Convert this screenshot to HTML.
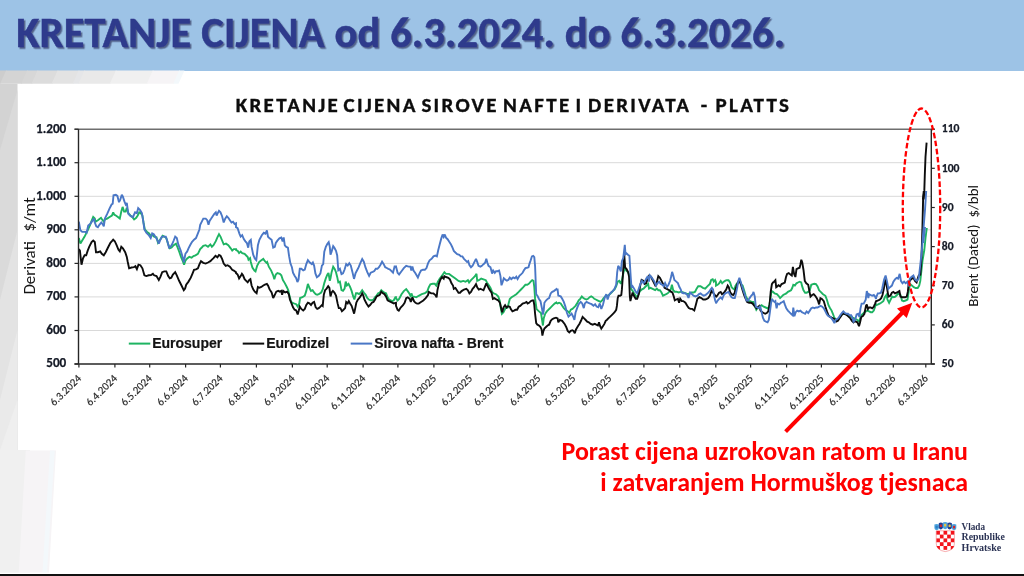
<!DOCTYPE html>
<html><head><meta charset="utf-8"><title>Kretanje cijena</title>
<style>
html,body{margin:0;padding:0}
body{width:1024px;height:576px;overflow:hidden;position:relative;background:#fff;font-family:Carlito,"Liberation Sans",sans-serif}
.hdr{position:absolute;left:0;top:0;width:1024px;height:70.5px;background:#9dc3e6}
.ttl{font-family:Carlito,"Liberation Sans",sans-serif;font-weight:bold;font-size:42.3px;letter-spacing:0.25px;fill:#2e3a8c;stroke:#2e3a8c;stroke-width:0.5px}
.bar{position:absolute;left:0;top:573.5px;width:1024px;height:3px;background:#111}
svg{position:absolute;left:0;top:0}
.ax{font-family:Carlito,"Liberation Sans",sans-serif;font-weight:bold;font-size:13.2px;fill:#151a26;stroke:#151a26;stroke-width:0.25px}
.ax2{font-family:Carlito,"Liberation Sans",sans-serif;font-weight:bold;font-size:11.6px;fill:#151a26;stroke:#151a26;stroke-width:0.25px}
.xl{font-family:Carlito,"Liberation Sans",sans-serif;font-size:11px;fill:#2a2a2a;stroke:#2a2a2a;stroke-width:0.15px}
.at{font-family:Carlito,"Liberation Sans",sans-serif;font-size:17px;fill:#141414}
.at2{font-family:Carlito,"Liberation Sans",sans-serif;font-size:15px;fill:#141414}
.ct{font-family:Carlito,"Liberation Sans",sans-serif;font-weight:bold;font-size:21px;letter-spacing:2.3px;fill:#0d0d0d;stroke:#0d0d0d;stroke-width:0.35px}
.lg{font-family:"Liberation Sans",Arial,sans-serif;font-weight:bold;font-size:14px;fill:#141414;stroke:#141414;stroke-width:0.2px}
.red{font-family:Carlito,"Liberation Sans",sans-serif;font-weight:bold;font-size:25.9px;fill:#ff0000}
.lt{font-family:"Liberation Serif",serif;font-weight:bold;font-size:9.8px;fill:#2b3354}
</style></head><body>
<div class="hdr"></div>
<svg width="1024" height="576" viewBox="0 0 1024 576">
<polygon points="-10,70.5 6.8999999999999995,70.5 0.8999999999999995,83.8 -16,83.8" fill="#cdcdcd"/>
<polygon points="6.1,70.5 28.0,70.5 22.0,83.8 0.09999999999999964,83.8" fill="#d4d4d4"/>
<polygon points="27.2,70.5 38.3,70.5 32.3,83.8 21.2,83.8" fill="#d7d7d7"/>
<polygon points="37.5,70.5 58.4,70.5 52.4,83.8 31.5,83.8" fill="#dcdcdc"/>
<polygon points="57.6,70.5 79.5,70.5 73.5,83.8 51.6,83.8" fill="#e3e3e3"/>
<polygon points="78.7,70.5 85.2,70.5 79.2,83.8 72.7,83.8" fill="#e5e6e8"/>
<polygon points="84.4,70.5 116.6,70.5 110.6,83.8 78.4,83.8" fill="#e9e9e9"/>
<polygon points="115.8,70.5 153.60000000000002,70.5 147.60000000000002,83.8 109.8,83.8" fill="#f0f0f0"/>
<polygon points="152.8,70.5 180.0,70.5 174.0,83.8 146.8,83.8" fill="#f6f4f6"/>
<polygon points="179.2,70.5 184.5,70.5 178.5,83.8 173.2,83.8" fill="#f3f8fb"/>
<rect x="0" y="83.8" width="17.5" height="380" fill="#d3d3d3"/>
<polygon points="0,150 17.5,90 17.5,460 0,460" fill="#dadada"/>
<polygon points="0,300 17.5,230 17.5,460 0,460" fill="#e3e3e3"/>
<polygon points="0,400 17.5,330 17.5,460 0,460" fill="#eaeaea"/>
<polygon points="0,450 17.5,400 17.5,460 0,460" fill="#efefef"/>
<rect x="0" y="450" width="30" height="123" fill="#f0f0f0"/>
<polygon points="25.8,450.5 56,450.5 49,572.7 18.75,572.7" fill="#f6f4f6"/>
<polygon points="50,450.5 54.7,450.5 47,572.7 42.5,572.7" fill="#f3f8fb"/>
<rect x="0" y="572.7" width="60" height="1" fill="#fff"/>
<defs><filter id="sh" x="-5%" y="-20%" width="110%" height="150%"><feDropShadow dx="1.5" dy="1.6" stdDeviation="0.6" flood-color="#1c2448" flood-opacity="0.6"/></filter></defs>
<line x1="78.5" y1="330.5" x2="931.3" y2="330.5" stroke="#d9d9d9" stroke-width="1"/>
<line x1="78.5" y1="296.9" x2="931.3" y2="296.9" stroke="#d9d9d9" stroke-width="1"/>
<line x1="78.5" y1="263.4" x2="931.3" y2="263.4" stroke="#d9d9d9" stroke-width="1"/>
<line x1="78.5" y1="229.8" x2="931.3" y2="229.8" stroke="#d9d9d9" stroke-width="1"/>
<line x1="78.5" y1="196.3" x2="931.3" y2="196.3" stroke="#d9d9d9" stroke-width="1"/>
<line x1="78.5" y1="162.7" x2="931.3" y2="162.7" stroke="#d9d9d9" stroke-width="1"/>
<path d="M78.8,238.1 L80.4,243.6 L82.2,240.5 L84.6,236.6 L86.2,233.4 L87.7,230.3 L90.1,224.8 L91.6,220.9 L93.2,217.0 L94.8,218.6 L95.5,221.7 L97.9,220.2 L101.0,217.8 L102.6,220.2 L103.8,221.7 L104.9,219.4 L107.2,218.6 L109.6,217.0 L111.9,215.5 L113.2,212.3 L114.3,214.7 L115.8,215.5 L117.9,217.0 L119.8,218.6 L121.3,211.6 L122.6,206.9 L124.1,211.6 L125.7,211.6 L126.8,207.7 L128.3,213.1 L130.4,215.5 L132.2,217.0 L134.1,219.4 L136.2,217.8 L137.7,215.5 L139.3,212.3 L140.8,213.1 L142.4,215.5 L143.5,222.5 L144.8,229.5 L147.1,231.9 L149.1,233.4 L150.7,235.8 L152.6,235.0 L154.1,236.6 L156.5,237.3 L158.0,242.8 L159.6,240.5 L161.2,238.1 L162.7,235.8 L164.3,236.6 L166.3,238.1 L168.2,244.4 L169.8,248.3 L171.6,247.5 L173.7,245.2 L176.0,243.6 L177.6,247.5 L179.4,252.2 L181.0,256.9 L183.0,261.6 L184.1,264.7 L185.4,260.8 L187.2,258.4 L189.3,256.9 L191.6,257.7 L193.5,256.1 L195.5,255.3 L197.9,253.8 L200.2,249.1 L201.8,247.5 L203.3,245.9 L205.7,245.2 L208.0,246.7 L210.4,244.4 L211.9,246.7 L213.5,245.2 L215.8,241.2 L217.4,237.3 L219.0,234.2 L220.5,236.6 L222.1,240.5 L223.7,244.4 L226.0,243.6 L228.3,245.2 L230.7,248.3 L232.2,250.6 L233.8,249.1 L236.0,249.1 L236.0,250.0 L237.6,250.8 L239.1,253.1 L240.7,251.6 L242.2,253.1 L244.6,253.9 L246.2,255.5 L247.7,257.0 L248.5,259.7 L250.1,258.1 L250.8,262.0 L252.4,267.5 L254.4,270.6 L255.5,271.4 L257.1,265.9 L259.1,262.0 L261.0,260.5 L263.3,258.9 L264.9,261.2 L266.5,262.8 L267.2,262.0 L268.8,266.7 L271.2,270.6 L273.2,275.3 L274.3,279.2 L275.8,274.5 L277.4,273.0 L279.8,273.8 L281.3,275.3 L282.9,280.0 L284.8,283.1 L286.8,287.0 L288.3,290.2 L289.4,295.6 L290.7,300.3 L291.9,302.7 L293.8,303.4 L296.2,304.2 L297.7,306.6 L299.3,303.4 L300.1,298.0 L302.4,297.2 L304.8,295.6 L306.3,290.9 L307.9,283.9 L309.4,287.8 L311.0,290.9 L312.6,290.2 L314.1,292.5 L315.7,294.1 L317.2,294.8 L318.8,294.1 L321.2,292.5 L322.7,289.4 L324.3,283.1 L325.8,278.4 L327.4,274.5 L328.5,273.0 L329.8,280.8 L330.5,278.4 L331.6,272.2 L333.2,266.7 L334.8,269.1 L336.0,272.2 L337.2,276.9 L338.3,282.3 L339.9,281.6 L341.5,290.2 L343.0,290.9 L344.6,288.6 L345.7,281.6 L346.9,285.5 L348.5,283.9 L350.1,287.0 L351.6,290.9 L353.2,296.4 L354.4,299.5 L356.0,293.3 L357.6,293.3 L359.1,294.1 L360.7,292.5 L362.2,290.2 L363.8,292.5 L365.7,294.8 L367.2,298.0 L368.8,299.5 L370.4,300.3 L371.9,300.3 L373.5,299.5 L375.1,297.2 L376.6,295.6 L378.2,293.3 L379.8,292.5 L381.3,290.2 L382.9,291.7 L384.4,292.5 L386.0,293.3 L387.6,297.2 L389.1,299.5 L390.7,300.3 L392.2,301.1 L393.8,300.3 L395.4,297.2 L396.0,297.2 L396.0,298.1 L397.6,300.5 L399.1,298.9 L401.5,294.2 L403.8,291.1 L406.2,289.1 L407.7,291.1 L409.3,293.4 L410.4,295.8 L411.6,293.4 L412.4,296.6 L414.0,296.6 L416.3,297.3 L418.7,295.8 L421.8,294.2 L424.9,293.1 L427.2,291.6 L428.8,287.2 L430.4,284.4 L432.7,283.8 L434.8,283.8 L436.3,285.6 L437.9,281.7 L439.8,278.6 L442.1,275.5 L444.4,272.3 L446.0,273.9 L449.1,273.9 L452.2,276.2 L455.4,278.6 L458.5,280.9 L460.8,281.7 L463.2,280.9 L465.5,281.7 L467.9,280.2 L469.1,282.5 L471.0,280.2 L473.3,277.8 L474.9,276.2 L476.5,273.9 L477.2,280.9 L478.8,280.2 L481.2,278.6 L483.5,279.4 L485.8,280.2 L486.9,282.5 L489.0,285.6 L490.5,288.0 L492.1,291.9 L493.7,293.4 L496.0,294.2 L498.3,296.6 L499.9,301.2 L500.7,307.5 L501.9,313.8 L503.5,312.2 L505.4,308.3 L507.7,307.5 L508.8,302.8 L509.8,298.9 L511.6,297.3 L514.0,295.8 L516.3,294.2 L518.7,291.9 L521.0,289.5 L523.3,287.2 L525.4,284.8 L527.2,284.8 L528.8,283.8 L530.7,281.7 L532.2,280.2 L533.5,280.9 L534.3,287.2 L535.1,298.9 L536.6,309.1 L539.0,311.4 L541.0,313.0 L542.1,320.0 L542.9,325.5 L543.7,318.4 L545.2,313.8 L546.8,311.4 L548.3,309.8 L549.9,308.3 L551.5,306.7 L553.0,305.2 L554.6,303.6 L556.0,302.7 L556.0,302.8 L557.6,303.4 L559.1,302.7 L560.7,303.4 L562.2,305.8 L563.8,308.1 L565.4,309.7 L567.7,311.2 L569.3,312.8 L570.8,309.7 L572.4,308.9 L574.0,307.3 L575.5,305.8 L577.1,303.4 L578.7,300.3 L580.2,298.8 L581.8,296.4 L583.3,298.0 L584.9,298.8 L586.5,299.5 L588.0,298.8 L589.6,297.2 L591.2,296.4 L592.7,297.2 L594.3,298.8 L595.8,299.5 L597.4,300.3 L599.0,301.1 L600.5,301.9 L602.1,300.3 L603.7,298.0 L605.2,296.4 L606.8,295.6 L608.3,295.6 L609.9,294.1 L611.5,292.5 L613.0,290.9 L614.6,289.4 L616.2,286.2 L617.7,281.6 L619.3,280.8 L620.8,283.9 L621.6,281.6 L622.9,275.3 L624.0,270.6 L625.1,268.3 L626.3,270.6 L627.9,272.2 L629.4,275.3 L630.2,281.6 L631.3,289.4 L632.6,290.9 L634.1,293.3 L635.7,295.6 L637.2,297.2 L638.5,294.1 L640.1,290.9 L641.9,289.4 L643.5,288.6 L645.1,287.0 L646.6,285.5 L648.2,283.9 L649.0,288.6 L650.5,287.8 L652.1,288.6 L653.7,289.4 L655.2,290.2 L656.8,288.6 L658.3,290.2 L659.9,290.2 L661.5,292.5 L663.0,295.6 L664.6,294.8 L666.2,294.1 L667.7,293.3 L669.3,291.7 L670.8,289.4 L671.9,284.7 L673.2,290.2 L674.8,291.7 L676.3,291.7 L678.7,292.5 L681.0,291.7 L683.3,292.5 L685.7,293.3 L687.6,294.1 L689.6,293.3 L691.2,292.5 L693.5,292.5 L695.1,291.7 L696.6,288.6 L698.2,286.2 L700.5,286.2 L702.9,287.8 L705.2,288.6 L707.6,286.2 L709.9,283.9 L711.2,280.0 L712.7,279.2 L713.8,281.6 L715.1,280.0 L716.0,282.3 L716.0,285.6 L717.6,284.8 L719.1,283.3 L720.7,280.9 L722.2,283.3 L723.8,281.7 L725.4,280.6 L726.9,280.2 L728.5,280.2 L730.1,282.5 L731.6,287.2 L733.2,288.8 L734.4,289.5 L735.5,285.6 L737.1,283.3 L738.7,282.5 L739.8,280.2 L741.0,284.1 L742.6,285.6 L744.1,290.3 L745.7,295.8 L747.2,298.9 L748.8,301.2 L750.4,301.2 L751.9,302.0 L753.5,302.0 L754.8,305.9 L756.3,309.8 L757.9,307.5 L759.8,306.7 L761.6,305.2 L763.7,306.7 L765.7,307.5 L767.6,308.3 L769.1,306.7 L770.4,298.9 L771.5,291.1 L773.0,291.9 L774.6,293.4 L776.9,294.2 L778.5,295.8 L780.1,298.1 L781.6,296.6 L783.2,295.0 L784.8,294.2 L786.3,293.4 L787.9,291.9 L789.4,291.1 L791.0,290.3 L792.2,288.0 L793.3,284.8 L794.9,285.6 L796.5,283.3 L798.0,282.5 L799.6,281.7 L801.2,282.5 L802.2,286.4 L803.5,290.3 L805.1,292.7 L806.6,292.7 L808.2,291.9 L809.8,290.3 L811.3,284.8 L812.9,284.1 L814.4,283.8 L816.0,284.1 L817.6,286.4 L819.1,290.3 L820.7,291.9 L823.0,294.2 L825.4,295.8 L826.9,299.7 L828.5,305.2 L830.1,308.3 L831.6,310.6 L832.9,313.8 L834.0,316.9 L835.5,319.2 L837.1,320.0 L838.7,318.4 L840.2,316.1 L841.8,314.5 L843.3,313.8 L844.9,313.8 L846.5,314.5 L848.0,315.3 L849.6,316.1 L851.2,316.1 L852.7,317.7 L854.3,318.4 L855.8,319.2 L857.4,320.0 L859.0,321.6 L860.1,318.4 L861.3,315.3 L862.9,313.8 L864.4,312.2 L866.0,311.4 L867.6,310.6 L869.1,311.4 L870.7,312.2 L872.2,312.2 L873.8,310.6 L875.1,306.7 L876.0,303.6 L876.2,305.2 L878.1,304.4 L879.7,303.6 L881.2,302.8 L883.3,301.2 L884.8,297.3 L886.4,295.0 L887.5,299.7 L889.1,302.8 L890.6,299.7 L892.2,296.6 L893.8,297.3 L895.3,296.6 L896.9,295.0 L898.4,293.4 L900.5,295.0 L902.0,300.5 L903.6,301.2 L905.6,300.5 L907.5,299.7 L909.1,288.8 L910.3,284.1 L911.9,285.6 L913.8,287.2 L915.6,288.0 L917.7,288.0 L919.2,285.6 L920.3,280.9 L921.5,270.0 L922.6,260.0 L924.3,250.0 L925.5,238.0 L926.8,228.0" fill="none" stroke="#1eb462" stroke-width="1.9" stroke-linejoin="miter" stroke-miterlimit="2.5"/>
<path d="M78.8,249.1 L79.9,250.6 L81.5,264.7 L83.0,258.4 L84.6,255.3 L86.2,255.3 L87.7,250.6 L89.3,246.7 L91.6,242.0 L93.2,240.5 L94.8,242.0 L96.0,252.2 L97.9,252.2 L100.2,251.4 L101.8,253.8 L103.8,255.3 L105.7,252.2 L108.0,247.5 L110.4,242.8 L111.9,241.2 L113.2,239.7 L114.8,241.2 L116.6,245.2 L118.5,249.8 L119.8,251.4 L121.3,246.7 L122.9,248.3 L125.2,252.2 L126.8,256.9 L127.6,261.2 L129.1,268.3 L131.5,267.5 L133.8,267.2 L135.4,266.2 L136.9,269.1 L138.5,264.7 L140.4,265.2 L142.4,268.3 L144.4,275.3 L146.3,276.1 L148.7,275.3 L151.0,275.0 L152.9,273.8 L154.1,275.3 L156.5,276.1 L158.8,280.0 L160.4,276.9 L162.2,272.2 L164.3,271.4 L166.3,271.4 L168.2,276.1 L169.8,278.4 L171.3,277.7 L172.9,274.5 L175.2,272.2 L176.8,275.3 L179.1,280.8 L181.5,285.5 L183.8,290.2 L185.1,288.6 L186.2,284.7 L188.5,281.6 L190.8,277.7 L192.4,273.8 L194.0,269.8 L196.0,269.4 L197.9,268.3 L199.4,264.4 L201.0,261.2 L203.3,262.8 L205.7,263.6 L208.0,262.5 L210.4,261.2 L211.9,259.7 L213.5,258.1 L215.5,255.8 L217.4,257.3 L219.0,255.0 L220.5,255.8 L222.1,258.9 L223.7,263.6 L225.7,265.9 L227.6,265.2 L229.9,266.7 L232.2,269.8 L233.8,270.6 L236.0,272.2 L236.0,273.0 L237.6,274.5 L239.1,278.4 L240.7,276.1 L241.9,273.8 L243.0,275.3 L244.6,279.2 L246.2,280.8 L247.7,282.3 L249.3,280.0 L250.4,279.2 L251.6,285.5 L253.2,289.4 L254.8,291.7 L256.6,293.3 L257.9,287.0 L259.4,287.8 L261.3,287.0 L263.3,285.5 L264.9,284.7 L266.9,283.9 L268.0,285.5 L269.6,289.4 L271.6,292.5 L273.2,298.0 L274.8,294.8 L276.3,291.7 L278.2,290.9 L279.8,291.7 L281.3,290.9 L282.1,294.8 L283.2,290.9 L285.2,292.5 L287.2,291.7 L288.8,294.1 L289.9,299.5 L291.5,303.4 L293.0,307.3 L294.6,309.7 L296.2,310.5 L297.7,314.4 L298.8,310.5 L299.8,306.6 L301.3,308.9 L303.2,310.5 L304.8,308.9 L306.3,305.0 L307.9,302.7 L309.4,303.4 L311.0,305.0 L312.6,302.7 L314.1,301.9 L315.7,307.3 L317.2,308.9 L318.8,308.1 L320.4,306.6 L321.9,305.0 L322.7,305.8 L323.8,294.8 L325.1,290.2 L326.6,288.6 L328.2,286.2 L329.4,287.8 L330.5,296.4 L331.6,292.5 L332.9,290.9 L334.4,292.5 L336.0,295.6 L337.6,303.4 L338.8,308.1 L340.4,308.1 L341.9,311.2 L343.5,309.7 L345.1,308.1 L346.2,301.9 L347.7,303.4 L348.8,301.1 L350.1,303.4 L351.6,305.8 L352.9,309.7 L354.1,313.6 L355.1,308.9 L356.3,302.7 L357.9,299.5 L359.4,298.0 L361.0,295.6 L362.2,293.3 L363.3,295.6 L364.4,299.5 L366.5,303.4 L368.5,306.6 L370.1,305.0 L371.9,302.7 L373.5,301.9 L375.1,299.5 L376.6,296.4 L378.2,295.6 L379.8,294.8 L381.3,291.7 L382.9,293.3 L384.4,294.1 L386.0,296.4 L387.6,300.3 L389.1,301.1 L390.7,301.9 L392.2,302.7 L393.8,303.4 L396.0,302.7 L396.0,305.9 L397.6,309.8 L398.8,310.6 L400.7,307.5 L403.0,305.2 L404.6,302.8 L406.2,298.1 L407.7,297.3 L409.8,298.9 L410.8,302.0 L411.6,299.7 L412.4,297.3 L414.0,301.2 L415.5,302.8 L417.1,303.6 L418.7,303.6 L421.0,302.0 L423.3,300.5 L425.7,298.1 L428.0,295.0 L428.8,291.9 L431.2,293.4 L433.5,293.4 L435.4,295.0 L436.6,297.3 L437.4,290.3 L439.0,283.3 L440.5,279.4 L442.1,277.0 L443.7,278.6 L444.4,276.2 L446.0,277.0 L448.3,277.8 L449.9,279.4 L451.5,283.3 L453.0,285.6 L453.8,288.8 L455.4,288.0 L456.9,290.3 L458.5,292.7 L460.1,292.7 L461.6,291.1 L464.0,289.5 L466.3,288.8 L467.9,290.3 L469.4,293.4 L471.0,291.9 L472.6,288.8 L474.1,287.2 L476.0,284.1 L477.2,287.2 L478.8,289.5 L480.4,288.8 L481.9,289.5 L483.5,290.3 L485.1,286.4 L486.3,283.3 L487.4,285.6 L489.0,288.8 L490.5,291.1 L491.6,292.7 L492.9,298.9 L494.4,298.1 L496.8,299.7 L498.3,300.5 L499.9,302.8 L501.0,307.5 L502.2,312.2 L503.5,307.5 L505.1,305.2 L506.6,307.5 L508.2,306.2 L509.8,306.7 L510.8,309.1 L512.4,311.4 L514.0,310.6 L515.5,309.8 L517.1,309.8 L518.7,306.7 L520.2,305.9 L522.6,303.6 L524.9,302.8 L526.5,302.0 L527.6,303.6 L529.1,302.8 L530.7,301.2 L532.2,300.5 L533.5,300.5 L534.3,305.2 L535.1,313.8 L536.2,323.1 L537.4,324.7 L539.0,325.5 L540.5,327.0 L541.6,329.4 L542.4,335.6 L543.2,331.7 L544.4,328.6 L546.0,327.0 L547.6,325.5 L549.1,324.7 L550.7,320.8 L552.2,319.2 L553.8,318.4 L556.0,317.7 L556.0,317.7 L557.6,318.4 L558.3,322.3 L559.9,320.0 L562.2,320.8 L564.6,323.9 L566.2,327.0 L567.7,330.9 L569.3,332.5 L570.8,330.9 L572.4,330.2 L573.5,330.9 L574.8,333.3 L576.0,329.4 L577.9,326.2 L579.4,323.9 L581.0,320.8 L582.6,316.9 L584.1,318.4 L585.7,320.0 L587.2,321.6 L588.8,322.3 L590.7,323.9 L592.7,324.7 L594.8,323.9 L596.3,324.7 L597.9,325.5 L599.0,322.3 L600.1,326.2 L601.3,328.6 L602.9,326.2 L604.4,323.9 L605.7,320.8 L606.8,320.0 L608.3,318.4 L609.9,316.9 L611.5,315.3 L613.0,313.8 L614.6,312.2 L616.2,309.8 L616.9,305.9 L617.7,298.1 L618.5,295.8 L620.1,295.8 L621.3,295.0 L621.9,289.4 L622.9,275.3 L623.7,261.2 L624.3,255.0 L625.1,267.5 L626.6,269.1 L628.2,272.2 L629.1,276.9 L629.8,295.6 L630.4,301.1 L631.3,297.2 L632.6,292.5 L633.8,295.6 L635.7,298.8 L637.2,298.8 L638.8,294.1 L640.4,284.7 L641.6,280.0 L643.2,280.8 L644.8,283.9 L646.3,283.1 L647.9,277.7 L649.4,275.3 L651.0,276.9 L652.6,280.0 L654.1,283.1 L655.7,286.2 L656.8,282.3 L658.3,276.1 L659.9,277.7 L661.5,280.8 L663.0,283.9 L664.6,287.8 L666.2,288.6 L667.7,289.4 L669.3,290.2 L670.8,291.7 L672.4,292.5 L673.5,295.6 L674.8,300.3 L676.3,299.5 L677.9,298.8 L679.1,302.7 L680.2,298.8 L681.8,301.1 L683.3,301.1 L685.4,302.7 L687.2,305.8 L688.8,308.1 L690.4,308.9 L692.2,308.9 L694.3,310.5 L695.8,305.0 L697.4,298.8 L699.4,297.2 L701.3,298.0 L703.2,299.5 L705.2,299.5 L706.8,298.8 L708.3,298.0 L709.9,295.6 L711.5,290.9 L713.0,292.5 L714.1,294.1 L716.0,296.6 L716.0,297.2 L717.6,295.0 L719.1,292.7 L720.7,291.9 L721.9,294.2 L723.0,293.4 L724.6,291.9 L726.2,289.5 L727.7,285.6 L728.8,287.2 L730.1,291.9 L731.6,294.2 L733.2,295.0 L734.4,293.4 L735.5,289.5 L736.6,286.4 L737.9,282.5 L739.4,280.2 L741.0,284.8 L742.6,290.3 L744.1,295.0 L745.7,298.9 L747.2,302.0 L749.1,302.8 L751.2,302.8 L752.7,303.6 L753.8,305.2 L755.1,306.7 L756.6,308.3 L758.2,306.7 L759.4,305.9 L760.5,310.6 L762.1,312.2 L763.7,313.0 L765.2,313.8 L766.8,313.0 L768.3,311.4 L769.6,304.4 L770.7,291.9 L771.9,284.1 L773.0,282.5 L774.1,281.7 L775.4,280.2 L776.2,287.2 L777.2,286.4 L778.5,285.3 L780.1,286.4 L781.6,284.1 L783.2,283.3 L784.8,282.5 L786.0,277.0 L787.1,273.9 L788.7,273.1 L790.7,274.7 L791.8,275.5 L792.9,266.9 L794.1,273.9 L795.4,277.0 L796.5,269.2 L798.0,268.4 L799.6,267.7 L800.4,264.5 L801.3,259.8 L802.2,262.2 L803.5,270.0 L804.8,280.9 L806.3,283.3 L808.2,284.8 L809.4,291.1 L810.5,296.6 L812.1,295.0 L813.7,294.2 L815.2,295.8 L816.8,298.1 L817.9,300.5 L819.1,304.4 L820.4,298.1 L821.9,298.9 L823.8,301.2 L825.4,306.7 L826.9,311.4 L828.5,315.3 L830.1,316.9 L831.6,317.7 L833.2,318.4 L834.8,319.2 L836.3,321.6 L837.9,320.8 L839.4,318.4 L841.0,316.1 L842.6,313.8 L844.1,313.8 L845.7,314.5 L847.2,315.3 L848.8,316.9 L850.4,318.4 L851.9,320.8 L853.5,322.3 L854.8,320.8 L855.8,321.6 L857.4,322.3 L859.0,326.2 L860.1,322.3 L861.3,316.9 L862.9,316.1 L864.4,313.8 L866.0,305.9 L866.8,304.4 L867.9,309.1 L869.1,307.5 L870.7,307.5 L872.2,308.3 L873.8,306.7 L875.1,303.6 L876.0,301.2 L876.2,301.2 L878.1,300.5 L879.7,299.7 L881.2,298.1 L882.5,295.0 L883.8,288.8 L884.8,282.5 L885.6,279.4 L886.9,287.2 L888.4,296.6 L890.3,295.8 L891.9,292.7 L893.4,291.9 L895.0,293.4 L896.6,292.7 L898.1,291.9 L899.4,291.1 L900.5,296.6 L902.0,297.3 L903.6,297.3 L905.2,297.3 L906.7,296.6 L907.8,291.9 L908.8,282.5 L910.3,280.2 L911.9,278.6 L913.4,277.8 L915.0,280.9 L916.6,282.5 L917.7,278.6 L918.8,275.5 L920.3,274.6 L921.3,261.6 L921.9,245.0 L922.5,225.0 L923.1,199.4 L924.3,190.9 L924.8,175.0 L925.5,157.0 L926.6,142.6" fill="none" stroke="#0d0d0d" stroke-width="1.9" stroke-linejoin="miter" stroke-miterlimit="2.5"/>
<path d="M78.8,221.7 L80.4,230.3 L82.2,231.9 L85.4,231.9 L86.6,232.7 L88.2,225.6 L90.1,224.1 L92.4,220.9 L94.0,218.6 L94.8,222.5 L96.3,226.4 L97.9,227.2 L99.4,224.8 L101.3,222.5 L102.6,224.1 L103.8,226.4 L104.9,218.6 L107.2,213.9 L109.6,208.4 L111.6,204.5 L112.7,203.8 L113.5,195.2 L115.8,194.7 L117.4,195.9 L119.0,202.2 L120.2,199.8 L121.8,194.7 L122.9,196.7 L124.4,201.4 L125.7,204.5 L126.8,203.0 L128.3,213.9 L130.7,216.2 L133.0,217.0 L135.1,212.3 L136.9,213.1 L138.2,208.1 L140.1,210.0 L141.9,213.1 L143.2,220.9 L144.4,229.5 L146.3,232.7 L148.7,235.0 L150.7,238.1 L152.2,233.4 L153.8,234.2 L155.7,237.3 L157.2,239.7 L158.8,243.6 L160.4,239.7 L161.9,236.6 L164.3,236.6 L165.8,236.6 L167.4,241.2 L169.0,247.5 L170.5,246.7 L172.1,244.4 L173.7,240.5 L175.2,236.6 L176.8,238.1 L178.3,244.4 L180.7,250.6 L182.6,256.9 L183.8,262.3 L185.4,253.8 L187.2,251.4 L188.5,248.3 L190.1,245.2 L191.9,242.0 L194.0,239.7 L196.0,238.1 L197.9,233.4 L199.4,229.5 L200.2,224.8 L201.8,221.7 L203.3,218.6 L205.7,218.6 L207.2,220.2 L208.5,224.8 L209.6,220.9 L211.2,218.6 L212.7,216.2 L214.3,213.9 L215.8,212.3 L216.6,215.5 L217.4,213.9 L219.0,210.8 L220.5,212.3 L222.1,216.2 L223.7,222.5 L225.2,218.6 L226.8,216.2 L228.3,217.8 L229.9,220.2 L231.5,222.5 L233.0,221.7 L234.6,224.1 L236.0,223.4 L236.0,227.2 L237.6,228.1 L239.4,233.6 L240.7,236.7 L242.2,235.2 L243.8,239.1 L245.4,241.4 L246.9,243.0 L248.2,247.7 L249.3,241.4 L250.8,239.8 L251.6,246.9 L253.2,254.7 L254.8,258.6 L256.3,260.2 L257.9,245.3 L259.4,239.8 L261.8,235.2 L263.8,232.8 L265.4,233.6 L266.9,230.5 L268.0,236.7 L269.6,238.3 L271.6,239.8 L273.2,247.7 L274.8,246.9 L275.8,243.0 L277.4,240.6 L279.4,238.3 L281.3,237.5 L282.6,241.4 L283.7,237.5 L284.8,245.3 L286.3,246.9 L287.9,247.7 L289.1,256.2 L290.4,263.3 L291.9,267.2 L293.0,272.7 L294.6,275.8 L296.2,278.1 L297.4,282.0 L298.5,279.7 L299.8,268.8 L301.3,268.8 L303.2,270.3 L304.8,269.5 L306.3,264.1 L307.9,260.2 L309.8,262.5 L311.8,264.1 L312.9,262.5 L314.1,265.6 L315.4,273.4 L316.9,277.3 L318.8,275.8 L320.4,273.4 L321.9,265.6 L323.2,264.1 L324.3,251.6 L325.8,246.9 L327.4,243.8 L328.7,242.2 L329.8,246.9 L330.5,254.7 L331.6,251.6 L333.2,246.1 L334.4,247.7 L336.0,250.8 L337.2,255.5 L338.3,270.3 L339.9,268.8 L341.5,274.2 L343.0,273.4 L344.6,269.5 L346.2,264.1 L347.7,265.6 L349.3,263.3 L350.8,265.6 L352.4,271.9 L354.0,278.9 L355.5,273.4 L357.1,270.3 L358.7,267.2 L360.2,263.3 L362.2,259.1 L363.8,261.7 L365.4,267.2 L367.2,271.9 L369.1,275.8 L370.7,272.7 L372.7,271.9 L374.3,271.1 L375.8,268.8 L377.4,268.8 L379.0,267.2 L380.5,264.8 L382.1,261.7 L383.7,264.1 L385.2,267.2 L386.8,268.0 L388.3,268.8 L389.9,269.5 L391.5,271.1 L393.0,272.7 L394.6,266.4 L396.0,266.4 L396.0,266.6 L397.6,272.8 L399.1,274.4 L401.5,271.2 L403.8,268.1 L406.2,265.8 L408.5,266.6 L410.4,266.6 L411.3,270.5 L412.4,266.6 L413.5,270.5 L415.1,272.8 L416.6,275.2 L417.9,277.5 L419.4,273.6 L421.0,270.5 L422.9,269.7 L424.9,269.7 L426.5,268.1 L428.0,263.4 L429.6,260.3 L431.6,258.8 L433.5,256.4 L435.4,255.6 L436.9,256.4 L438.2,250.2 L439.8,243.9 L441.3,238.4 L442.6,234.5 L443.7,236.9 L444.8,234.5 L446.0,237.7 L447.6,239.2 L449.1,241.6 L450.7,243.9 L452.2,247.0 L453.8,250.9 L455.4,252.5 L457.2,254.1 L459.3,254.8 L460.8,256.4 L462.4,256.4 L464.0,258.8 L465.5,260.3 L467.1,261.9 L468.2,261.1 L469.4,265.0 L471.0,267.3 L472.6,265.8 L474.1,262.7 L476.0,258.8 L477.2,261.9 L478.5,265.8 L480.4,266.6 L481.9,265.8 L483.5,264.2 L485.1,262.7 L486.3,258.8 L487.4,262.7 L488.5,265.8 L490.5,267.3 L492.1,273.6 L493.2,270.5 L494.8,272.8 L496.0,271.2 L497.6,271.2 L499.1,270.5 L500.4,275.9 L501.5,285.3 L502.6,282.2 L503.8,278.3 L505.4,279.8 L506.9,280.6 L508.5,279.8 L509.8,277.5 L511.3,279.1 L513.2,277.5 L514.8,278.3 L516.3,276.7 L517.6,279.1 L519.4,275.9 L521.0,274.4 L522.6,272.8 L523.8,270.5 L525.4,268.1 L526.9,267.8 L528.5,267.3 L529.6,263.4 L530.7,260.3 L531.9,256.4 L533.2,255.9 L534.3,257.2 L535.1,266.6 L536.2,294.2 L537.4,295.8 L539.0,298.9 L540.5,301.2 L542.1,309.1 L542.9,314.5 L543.7,310.6 L544.4,302.8 L546.0,300.5 L547.6,298.9 L549.1,298.1 L550.7,293.4 L552.2,291.9 L553.8,291.1 L556.0,289.4 L556.0,289.5 L557.6,289.4 L558.3,295.6 L560.7,296.4 L562.2,298.8 L563.8,301.9 L565.4,306.6 L566.9,312.8 L568.5,316.7 L570.1,315.2 L571.6,313.6 L573.2,316.7 L574.4,319.8 L575.5,312.8 L577.1,308.1 L578.7,304.2 L580.7,301.9 L582.2,303.4 L583.8,308.1 L584.9,303.4 L586.5,301.9 L588.0,302.7 L589.6,303.4 L591.6,304.2 L593.5,305.8 L595.1,304.2 L596.6,306.6 L598.2,307.3 L599.8,303.4 L601.3,308.9 L602.9,305.0 L604.8,297.2 L606.3,294.1 L607.6,299.5 L609.1,294.8 L611.0,292.5 L613.0,290.9 L614.6,288.6 L616.2,284.7 L617.2,272.2 L618.2,265.9 L619.3,267.5 L620.8,271.4 L621.9,261.2 L623.2,258.1 L624.0,251.9 L624.8,244.8 L625.5,254.2 L626.6,253.4 L628.2,255.0 L629.4,255.8 L630.7,276.9 L631.5,287.8 L632.6,286.2 L634.1,288.6 L635.7,291.7 L637.2,293.3 L638.8,288.6 L640.4,283.9 L641.9,280.8 L643.5,283.1 L644.8,281.6 L646.3,278.4 L647.9,276.1 L649.0,281.6 L649.8,275.3 L651.3,276.9 L652.9,279.2 L654.4,281.6 L656.0,285.5 L657.6,283.1 L659.1,281.6 L660.7,283.9 L662.2,284.7 L663.8,286.2 L665.1,283.1 L666.9,287.0 L668.5,284.7 L670.1,280.8 L671.3,276.1 L672.1,271.9 L673.2,275.3 L674.4,280.0 L676.3,281.6 L677.9,283.1 L679.4,287.0 L680.7,289.4 L681.8,292.5 L683.3,293.3 L685.4,293.3 L687.2,294.8 L688.5,298.0 L690.1,292.5 L691.9,294.1 L693.5,295.6 L695.4,296.4 L697.4,295.6 L699.0,294.1 L700.5,293.3 L702.1,294.8 L703.7,295.6 L705.7,294.8 L707.6,293.3 L709.1,291.7 L710.7,289.4 L711.9,287.8 L713.0,289.4 L714.1,295.6 L715.1,300.3 L716.0,302.8 L716.0,303.4 L717.6,300.5 L719.1,298.9 L720.7,297.3 L722.2,298.9 L723.8,295.0 L725.4,293.4 L726.9,292.7 L728.5,291.9 L730.1,295.0 L731.6,297.3 L733.2,298.1 L734.8,298.1 L736.0,293.4 L737.1,288.0 L738.3,280.9 L739.4,277.8 L740.7,281.7 L741.8,285.6 L743.3,290.3 L744.9,295.0 L746.5,300.5 L748.0,300.5 L749.6,298.1 L751.2,295.8 L752.7,294.2 L753.5,291.9 L754.8,296.6 L755.8,306.7 L757.4,307.5 L759.0,308.3 L760.1,305.9 L761.3,310.6 L762.9,317.7 L764.4,320.8 L766.0,321.6 L767.6,322.3 L768.8,320.0 L769.9,312.2 L771.0,303.6 L771.9,298.9 L773.5,301.2 L774.6,302.0 L775.4,301.2 L776.6,308.3 L777.7,303.6 L779.3,304.4 L780.8,302.8 L782.4,302.0 L783.7,301.2 L784.8,304.4 L786.3,308.3 L787.9,310.6 L789.4,312.2 L791.0,313.8 L792.6,315.3 L793.3,307.5 L794.4,316.1 L795.7,312.2 L797.2,310.6 L798.8,311.4 L800.4,310.6 L801.9,312.2 L803.5,313.0 L805.1,313.8 L806.6,311.4 L808.2,313.0 L809.8,310.6 L811.3,308.3 L812.9,307.5 L814.4,308.3 L816.0,307.5 L817.6,307.5 L819.1,306.7 L820.7,305.9 L822.2,306.7 L823.8,308.3 L825.4,311.4 L826.9,314.5 L828.5,316.1 L830.1,316.9 L831.6,318.4 L833.2,320.8 L834.4,323.1 L835.5,320.0 L837.1,319.2 L838.7,317.7 L840.2,315.3 L841.8,313.0 L843.3,311.4 L844.9,313.0 L846.5,313.8 L848.0,313.8 L849.6,315.3 L851.2,315.3 L852.7,318.4 L853.5,321.6 L855.1,320.0 L856.6,314.5 L858.2,313.8 L859.4,316.9 L860.5,308.3 L861.6,303.6 L863.7,303.6 L865.7,299.7 L866.8,291.1 L867.6,293.4 L868.3,298.1 L869.1,294.2 L870.7,295.0 L872.2,295.8 L873.8,295.0 L875.1,296.6 L876.0,298.9 L876.2,297.3 L877.8,293.4 L879.4,293.4 L880.9,292.7 L882.2,288.8 L884.1,279.4 L885.6,275.5 L886.9,280.9 L888.4,288.8 L890.0,287.2 L891.9,285.6 L893.4,281.7 L895.0,279.4 L896.6,277.8 L898.1,278.6 L899.7,273.9 L900.9,280.9 L902.5,283.3 L904.1,281.7 L905.6,283.3 L907.5,281.7 L908.8,286.4 L909.8,278.6 L911.4,277.0 L913.4,275.5 L915.0,279.4 L916.6,280.9 L917.7,280.2 L918.8,277.8 L919.7,270.0 L920.6,262.0 L921.9,250.0 L923.7,226.0 L925.0,210.0 L926.2,191.0" fill="none" stroke="#4a77c6" stroke-width="1.9" stroke-linejoin="miter" stroke-miterlimit="2.5"/>
<polygon points="922.0,199.4 924.5,199.4 925.3,191 922.8,191" fill="#0d0d0d"/>
<polygon points="921.9,243 924.2,243 926.0,227 923.6,227" fill="#4a77c6"/>
<line x1="74.5" y1="129.2" x2="934.8" y2="129.2" stroke="#6e6e6e" stroke-width="1.4"/>
<line x1="78.5" y1="129.2" x2="78.5" y2="364.0" stroke="#262626" stroke-width="1.4"/>
<line x1="931.3" y1="129.2" x2="931.3" y2="364.0" stroke="#262626" stroke-width="1.4"/>
<line x1="74.5" y1="364.0" x2="934.8" y2="364.0" stroke="#262626" stroke-width="1.4"/>
<line x1="74.5" y1="364.0" x2="78.5" y2="364.0" stroke="#262626" stroke-width="1.2"/>
<text x="66.3" y="367.4" text-anchor="end" class="ax fit" textLength="20.06" lengthAdjust="spacingAndGlyphs">500</text>
<line x1="74.5" y1="330.5" x2="78.5" y2="330.5" stroke="#262626" stroke-width="1.2"/>
<text x="66.3" y="333.9" text-anchor="end" class="ax fit" textLength="20.06" lengthAdjust="spacingAndGlyphs">600</text>
<line x1="74.5" y1="296.9" x2="78.5" y2="296.9" stroke="#262626" stroke-width="1.2"/>
<text x="66.3" y="300.3" text-anchor="end" class="ax fit" textLength="20.06" lengthAdjust="spacingAndGlyphs">700</text>
<line x1="74.5" y1="263.4" x2="78.5" y2="263.4" stroke="#262626" stroke-width="1.2"/>
<text x="66.3" y="266.8" text-anchor="end" class="ax fit" textLength="20.06" lengthAdjust="spacingAndGlyphs">800</text>
<line x1="74.5" y1="229.8" x2="78.5" y2="229.8" stroke="#262626" stroke-width="1.2"/>
<text x="66.3" y="233.2" text-anchor="end" class="ax fit" textLength="20.06" lengthAdjust="spacingAndGlyphs">900</text>
<line x1="74.5" y1="196.3" x2="78.5" y2="196.3" stroke="#262626" stroke-width="1.2"/>
<text x="66.3" y="199.7" text-anchor="end" class="ax fit" textLength="30.27" lengthAdjust="spacingAndGlyphs">1.000</text>
<line x1="74.5" y1="162.7" x2="78.5" y2="162.7" stroke="#262626" stroke-width="1.2"/>
<text x="66.3" y="166.1" text-anchor="end" class="ax fit" textLength="30.27" lengthAdjust="spacingAndGlyphs">1.100</text>
<line x1="74.5" y1="129.2" x2="78.5" y2="129.2" stroke="#262626" stroke-width="1.2"/>
<text x="66.3" y="132.6" text-anchor="end" class="ax fit" textLength="30.27" lengthAdjust="spacingAndGlyphs">1.200</text>
<line x1="931.3" y1="364.0" x2="934.8" y2="364.0" stroke="#262626" stroke-width="1.2"/>
<text x="941.8" y="367.2" class="ax2 fit" textLength="11.77" lengthAdjust="spacingAndGlyphs">50</text>
<line x1="931.3" y1="324.9" x2="934.8" y2="324.9" stroke="#262626" stroke-width="1.2"/>
<text x="941.8" y="328.1" class="ax2 fit" textLength="11.77" lengthAdjust="spacingAndGlyphs">60</text>
<line x1="931.3" y1="285.7" x2="934.8" y2="285.7" stroke="#262626" stroke-width="1.2"/>
<text x="941.8" y="288.9" class="ax2 fit" textLength="11.77" lengthAdjust="spacingAndGlyphs">70</text>
<line x1="931.3" y1="246.6" x2="934.8" y2="246.6" stroke="#262626" stroke-width="1.2"/>
<text x="941.8" y="249.8" class="ax2 fit" textLength="11.77" lengthAdjust="spacingAndGlyphs">80</text>
<line x1="931.3" y1="207.5" x2="934.8" y2="207.5" stroke="#262626" stroke-width="1.2"/>
<text x="941.8" y="210.7" class="ax2 fit" textLength="11.77" lengthAdjust="spacingAndGlyphs">90</text>
<line x1="931.3" y1="168.3" x2="934.8" y2="168.3" stroke="#262626" stroke-width="1.2"/>
<text x="941.8" y="171.5" class="ax2 fit" textLength="17.64" lengthAdjust="spacingAndGlyphs">100</text>
<line x1="931.3" y1="129.2" x2="934.8" y2="129.2" stroke="#262626" stroke-width="1.2"/>
<text x="941.8" y="132.4" class="ax2 fit" textLength="17.64" lengthAdjust="spacingAndGlyphs">110</text>
<line x1="78.9" y1="364.0" x2="78.9" y2="367.5" stroke="#262626" stroke-width="1.2"/>
<text transform="translate(81.9,379.0) rotate(-45)" text-anchor="end" class="xl fit" textLength="39.02" lengthAdjust="spacingAndGlyphs">6.3.2024</text>
<line x1="114.9" y1="364.0" x2="114.9" y2="367.5" stroke="#262626" stroke-width="1.2"/>
<text transform="translate(117.9,379.0) rotate(-45)" text-anchor="end" class="xl fit" textLength="39.02" lengthAdjust="spacingAndGlyphs">6.4.2024</text>
<line x1="149.7" y1="364.0" x2="149.7" y2="367.5" stroke="#262626" stroke-width="1.2"/>
<text transform="translate(152.7,379.0) rotate(-45)" text-anchor="end" class="xl fit" textLength="39.02" lengthAdjust="spacingAndGlyphs">6.5.2024</text>
<line x1="185.6" y1="364.0" x2="185.6" y2="367.5" stroke="#262626" stroke-width="1.2"/>
<text transform="translate(188.6,379.0) rotate(-45)" text-anchor="end" class="xl fit" textLength="39.02" lengthAdjust="spacingAndGlyphs">6.6.2024</text>
<line x1="220.4" y1="364.0" x2="220.4" y2="367.5" stroke="#262626" stroke-width="1.2"/>
<text transform="translate(223.4,379.0) rotate(-45)" text-anchor="end" class="xl fit" textLength="39.02" lengthAdjust="spacingAndGlyphs">6.7.2024</text>
<line x1="256.4" y1="364.0" x2="256.4" y2="367.5" stroke="#262626" stroke-width="1.2"/>
<text transform="translate(259.4,379.0) rotate(-45)" text-anchor="end" class="xl fit" textLength="39.02" lengthAdjust="spacingAndGlyphs">6.8.2024</text>
<line x1="292.4" y1="364.0" x2="292.4" y2="367.5" stroke="#262626" stroke-width="1.2"/>
<text transform="translate(295.4,379.0) rotate(-45)" text-anchor="end" class="xl fit" textLength="39.02" lengthAdjust="spacingAndGlyphs">6.9.2024</text>
<line x1="327.2" y1="364.0" x2="327.2" y2="367.5" stroke="#262626" stroke-width="1.2"/>
<text transform="translate(330.2,379.0) rotate(-45)" text-anchor="end" class="xl fit" textLength="44.59" lengthAdjust="spacingAndGlyphs">6.10.2024</text>
<line x1="363.1" y1="364.0" x2="363.1" y2="367.5" stroke="#262626" stroke-width="1.2"/>
<text transform="translate(366.1,379.0) rotate(-45)" text-anchor="end" class="xl fit" textLength="44.59" lengthAdjust="spacingAndGlyphs">6.11.2024</text>
<line x1="397.9" y1="364.0" x2="397.9" y2="367.5" stroke="#262626" stroke-width="1.2"/>
<text transform="translate(400.9,379.0) rotate(-45)" text-anchor="end" class="xl fit" textLength="44.59" lengthAdjust="spacingAndGlyphs">6.12.2024</text>
<line x1="433.9" y1="364.0" x2="433.9" y2="367.5" stroke="#262626" stroke-width="1.2"/>
<text transform="translate(436.9,379.0) rotate(-45)" text-anchor="end" class="xl fit" textLength="39.02" lengthAdjust="spacingAndGlyphs">6.1.2025</text>
<line x1="469.9" y1="364.0" x2="469.9" y2="367.5" stroke="#262626" stroke-width="1.2"/>
<text transform="translate(472.9,379.0) rotate(-45)" text-anchor="end" class="xl fit" textLength="39.02" lengthAdjust="spacingAndGlyphs">6.2.2025</text>
<line x1="502.3" y1="364.0" x2="502.3" y2="367.5" stroke="#262626" stroke-width="1.2"/>
<text transform="translate(505.3,379.0) rotate(-45)" text-anchor="end" class="xl fit" textLength="39.02" lengthAdjust="spacingAndGlyphs">6.3.2025</text>
<line x1="538.3" y1="364.0" x2="538.3" y2="367.5" stroke="#262626" stroke-width="1.2"/>
<text transform="translate(541.3,379.0) rotate(-45)" text-anchor="end" class="xl fit" textLength="39.02" lengthAdjust="spacingAndGlyphs">6.4.2025</text>
<line x1="573.1" y1="364.0" x2="573.1" y2="367.5" stroke="#262626" stroke-width="1.2"/>
<text transform="translate(576.1,379.0) rotate(-45)" text-anchor="end" class="xl fit" textLength="39.02" lengthAdjust="spacingAndGlyphs">6.5.2025</text>
<line x1="609.1" y1="364.0" x2="609.1" y2="367.5" stroke="#262626" stroke-width="1.2"/>
<text transform="translate(612.1,379.0) rotate(-45)" text-anchor="end" class="xl fit" textLength="39.02" lengthAdjust="spacingAndGlyphs">6.6.2025</text>
<line x1="643.9" y1="364.0" x2="643.9" y2="367.5" stroke="#262626" stroke-width="1.2"/>
<text transform="translate(646.9,379.0) rotate(-45)" text-anchor="end" class="xl fit" textLength="39.02" lengthAdjust="spacingAndGlyphs">6.7.2025</text>
<line x1="679.8" y1="364.0" x2="679.8" y2="367.5" stroke="#262626" stroke-width="1.2"/>
<text transform="translate(682.8,379.0) rotate(-45)" text-anchor="end" class="xl fit" textLength="39.02" lengthAdjust="spacingAndGlyphs">6.8.2025</text>
<line x1="715.8" y1="364.0" x2="715.8" y2="367.5" stroke="#262626" stroke-width="1.2"/>
<text transform="translate(718.8,379.0) rotate(-45)" text-anchor="end" class="xl fit" textLength="39.02" lengthAdjust="spacingAndGlyphs">6.9.2025</text>
<line x1="750.6" y1="364.0" x2="750.6" y2="367.5" stroke="#262626" stroke-width="1.2"/>
<text transform="translate(753.6,379.0) rotate(-45)" text-anchor="end" class="xl fit" textLength="44.59" lengthAdjust="spacingAndGlyphs">6.10.2025</text>
<line x1="786.6" y1="364.0" x2="786.6" y2="367.5" stroke="#262626" stroke-width="1.2"/>
<text transform="translate(789.6,379.0) rotate(-45)" text-anchor="end" class="xl fit" textLength="44.59" lengthAdjust="spacingAndGlyphs">6.11.2025</text>
<line x1="821.4" y1="364.0" x2="821.4" y2="367.5" stroke="#262626" stroke-width="1.2"/>
<text transform="translate(824.4,379.0) rotate(-45)" text-anchor="end" class="xl fit" textLength="44.59" lengthAdjust="spacingAndGlyphs">6.12.2025</text>
<line x1="857.3" y1="364.0" x2="857.3" y2="367.5" stroke="#262626" stroke-width="1.2"/>
<text transform="translate(860.3,379.0) rotate(-45)" text-anchor="end" class="xl fit" textLength="39.02" lengthAdjust="spacingAndGlyphs">6.1.2026</text>
<line x1="893.3" y1="364.0" x2="893.3" y2="367.5" stroke="#262626" stroke-width="1.2"/>
<text transform="translate(896.3,379.0) rotate(-45)" text-anchor="end" class="xl fit" textLength="39.02" lengthAdjust="spacingAndGlyphs">6.2.2026</text>
<line x1="925.8" y1="364.0" x2="925.8" y2="367.5" stroke="#262626" stroke-width="1.2"/>
<text transform="translate(928.8,379.0) rotate(-45)" text-anchor="end" class="xl fit" textLength="39.02" lengthAdjust="spacingAndGlyphs">6.3.2026</text>
<text transform="translate(35.3,294.6) rotate(-90)" class="at fit" textLength="53.64" lengthAdjust="spacingAndGlyphs">Derivati</text>
<text transform="translate(35.3,231.6) rotate(-90)" class="at fit" textLength="34.31" lengthAdjust="spacingAndGlyphs">$/mt</text>
<text transform="translate(977.5,306.8) rotate(-90)" class="at2 fit" textLength="82.39" lengthAdjust="spacingAndGlyphs">Brent (Dated)</text>
<text transform="translate(977.5,217.6) rotate(-90)" class="at2 fit" textLength="32.61" lengthAdjust="spacingAndGlyphs">$/bbl</text>
<text x="235.7" y="112.2" class="ct fit" textLength="104.45" lengthAdjust="spacingAndGlyphs">KRETANJE</text>
<text x="343.5" y="112.2" class="ct fit" textLength="74.28" lengthAdjust="spacingAndGlyphs">CIJENA</text>
<text x="421.4" y="112.2" class="ct fit" textLength="77.45" lengthAdjust="spacingAndGlyphs">SIROVE</text>
<text x="503.1" y="112.2" class="ct fit" textLength="68.34" lengthAdjust="spacingAndGlyphs">NAFTE</text>
<text x="575.5" y="112.2" class="ct fit" textLength="7.91" lengthAdjust="spacingAndGlyphs">I</text>
<text x="588.1" y="112.2" class="ct fit" textLength="103.17" lengthAdjust="spacingAndGlyphs">DERIVATA</text>
<text x="700.7" y="112.2" class="ct fit" textLength="8.73" lengthAdjust="spacingAndGlyphs">-</text>
<text x="715.5" y="112.2" class="ct fit" textLength="75.83" lengthAdjust="spacingAndGlyphs">PLATTS</text>
<line x1="128.8" y1="343.6" x2="150.3" y2="343.6" stroke="#1eb462" stroke-width="2"/>
<text x="152.2" y="348" class="lg">Eurosuper</text>
<line x1="242.7" y1="343.6" x2="264.2" y2="343.6" stroke="#0d0d0d" stroke-width="2"/>
<text x="266.2" y="348" class="lg">Eurodizel</text>
<line x1="350.7" y1="343.6" x2="372.2" y2="343.6" stroke="#4a77c6" stroke-width="2"/>
<text x="374.2" y="348" class="lg">Sirova nafta - Brent</text>
<ellipse cx="921.5" cy="208" rx="18.7" ry="99.5" fill="none" stroke="#ff0000" stroke-width="2.3" stroke-dasharray="5.5 2.6"/>
<line x1="785.6" y1="431.6" x2="903" y2="312" stroke="#ff0000" stroke-width="4"/>
<polygon points="912.3,302.8 897,308.4 906.7,318.1" fill="#ff0000"/>
<text x="16.2" y="46.6" filter="url(#sh)" class="ttl fit" textLength="769.08" lengthAdjust="spacingAndGlyphs">KRETANJE CIJENA od 6.3.2024. do 6.3.2026.</text>
<text x="968" y="460.1" text-anchor="end" class="red fit" textLength="406.44" lengthAdjust="spacingAndGlyphs">Porast cijena uzrokovan ratom u Iranu</text>
<text x="968" y="490.6" text-anchor="end" class="red fit" textLength="367.78" lengthAdjust="spacingAndGlyphs">i zatvaranjem Hormuškog tjesnaca</text>
<clipPath id="shc"><path d="M936.25,530.8 H954.4 V543.5 Q954.4,550.2 945.3,551.6 Q936.25,550.2 936.25,543.5 Z"/></clipPath>
<path d="M936.25,530.8 H954.4 V543.5 Q954.4,550.2 945.3,551.6 Q936.25,550.2 936.25,543.5 Z" fill="#fff" stroke="#f05a5f" stroke-width="0.5"/>
<rect x="936.25" y="530.80" width="3.68" height="3.85" fill="#f3141c" clip-path="url(#shc)"/>
<rect x="943.51" y="530.80" width="3.68" height="3.85" fill="#f3141c" clip-path="url(#shc)"/>
<rect x="950.77" y="530.80" width="3.68" height="3.85" fill="#f3141c" clip-path="url(#shc)"/>
<rect x="939.88" y="534.60" width="3.68" height="3.85" fill="#f3141c" clip-path="url(#shc)"/>
<rect x="947.14" y="534.60" width="3.68" height="3.85" fill="#f3141c" clip-path="url(#shc)"/>
<rect x="936.25" y="538.40" width="3.68" height="3.85" fill="#f3141c" clip-path="url(#shc)"/>
<rect x="943.51" y="538.40" width="3.68" height="3.85" fill="#f3141c" clip-path="url(#shc)"/>
<rect x="950.77" y="538.40" width="3.68" height="3.85" fill="#f3141c" clip-path="url(#shc)"/>
<rect x="939.88" y="542.20" width="3.68" height="3.85" fill="#f3141c" clip-path="url(#shc)"/>
<rect x="947.14" y="542.20" width="3.68" height="3.85" fill="#f3141c" clip-path="url(#shc)"/>
<rect x="936.25" y="546.00" width="3.68" height="3.85" fill="#f3141c" clip-path="url(#shc)"/>
<rect x="943.51" y="546.00" width="3.68" height="3.85" fill="#f3141c" clip-path="url(#shc)"/>
<rect x="950.77" y="546.00" width="3.68" height="3.85" fill="#f3141c" clip-path="url(#shc)"/>
<path d="M934.4,524.6 Q936.65,523.2 938.9,524.6 L938.9,528.0 Q938.9,530.0 936.65,530.3 Q934.4,530.0 934.4,528.0 Z" fill="#4ba3de"/>
<rect x="935.55" y="525.80" width="2.2" height="2.6" rx="0.6" fill="#2f7fc4"/>
<path d="M938.8,523.3000000000001 Q940.8499999999999,521.9000000000001 942.9,523.3000000000001 L942.9,527.3 Q942.9,529.3 940.8499999999999,529.5999999999999 Q938.8,529.3 938.8,527.3 Z" fill="#1f3f93"/>
<rect x="939.75" y="524.50" width="2.2" height="2.6" rx="0.6" fill="#d4262c"/>
<path d="M942.8,522.6 Q945.15,521.2 947.5,522.6 L947.5,527.0 Q947.5,529.0 945.15,529.3 Q942.8,529.0 942.8,527.0 Z" fill="#4ba3de"/>
<rect x="944.05" y="523.80" width="2.2" height="2.6" rx="0.6" fill="#e3c443"/>
<path d="M947.4,523.3000000000001 Q949.65,521.9000000000001 951.9,523.3000000000001 L951.9,527.3 Q951.9,529.3 949.65,529.5999999999999 Q947.4,529.3 947.4,527.3 Z" fill="#1f3f93"/>
<rect x="948.55" y="524.50" width="2.2" height="2.6" rx="0.6" fill="#e3c443"/>
<path d="M951.8,524.6 Q954.05,523.2 956.3,524.6 L956.3,528.0 Q956.3,530.0 954.05,530.3 Q951.8,530.0 951.8,528.0 Z" fill="#4ba3de"/>
<rect x="952.95" y="525.80" width="2.2" height="2.6" rx="0.6" fill="#d4262c"/>
<text x="961.6" y="529.8" class="lt" textLength="23.4" lengthAdjust="spacingAndGlyphs">Vlada</text><text x="961.6" y="540.3" class="lt" textLength="43.3" lengthAdjust="spacingAndGlyphs">Republike</text><text x="961.6" y="550.9" class="lt" textLength="39.7" lengthAdjust="spacingAndGlyphs">Hrvatske</text>
</svg>
<div class="bar"></div>
</body></html>
